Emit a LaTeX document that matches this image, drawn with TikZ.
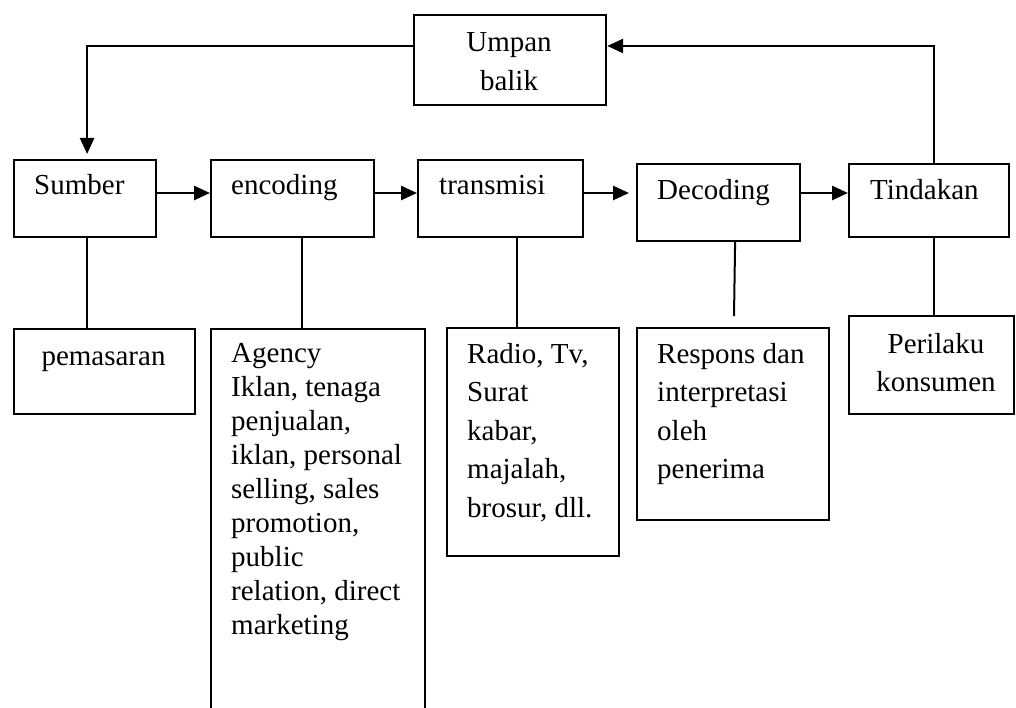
\documentclass[tikz,border=0pt]{standalone}
\usepackage{fontspec}
\setmainfont{Liberation Serif}
\usetikzlibrary{arrows.meta}

\tikzset{
  kotak/.style={draw, line width=2.2pt, rectangle, inner sep=0pt, anchor=north west},
  teks/.style={inner sep=0pt, font=\fontsize{29}{38.5}\selectfont},
  panah/.style={line width=2.6pt, -{Triangle[length=16pt,width=14pt]}},
  garis/.style={line width=2pt}
}

\begin{document}
\begin{tikzpicture}[x=1pt,y=-1pt]
\clip (0,0) rectangle (1016,708);
\node[kotak, minimum width=192pt, minimum height=90pt] (umpan) at (413,14) {};
\node[kotak, minimum width=142pt, minimum height=77pt] (sumber) at (13,159) {};
\node[kotak, minimum width=163pt, minimum height=77pt] (encoding) at (210,159) {};
\node[kotak, minimum width=165pt, minimum height=77pt] (transmisi) at (417,159) {};
\node[kotak, minimum width=163pt, minimum height=77pt] (decoding) at (636,163) {};
\node[kotak, minimum width=160pt, minimum height=73pt] (tindakan) at (848,163) {};
\node[kotak, minimum width=181pt, minimum height=85pt] (pemasaran) at (13,328) {};
\node[kotak, minimum width=214pt, minimum height=400pt] (agency) at (210,328) {};
\node[kotak, minimum width=172pt, minimum height=228pt] (radio) at (446,327) {};
\node[kotak, minimum width=192pt, minimum height=192pt] (respons) at (636,327) {};
\node[kotak, minimum width=165pt, minimum height=98pt] (perilaku) at (848,315) {};

\node[teks, text width=150pt, align=flush center, anchor=base] at (509,52) {Umpan\\balik};
\node[teks, anchor=base west] at (34,195) {Sumber};
\node[teks, anchor=base west] at (231,195) {encoding};
\node[teks, anchor=base west] at (439,195) {transmisi};
\node[teks, anchor=base west] at (657,200) {Decoding};
\node[teks, anchor=base west] at (870,200) {Tindakan};
\node[teks, anchor=base] at (103.5,365) {pemasaran};
\node[teks, font=\fontsize{29}{34}\selectfont, text width=190pt, align=flush left, anchor=base west] at (231,362)
  {Agency\\Iklan, tenaga\\penjualan,\\iklan, personal\\selling, sales\\promotion,\\public\\relation, direct\\marketing};
\node[teks, text width=150pt, align=flush left, anchor=base west] at (467,363) {Radio, Tv,\\Surat\\kabar,\\majalah,\\brosur, dll.};
\node[teks, text width=170pt, align=flush left, anchor=base west] at (657,363) {Respons dan\\interpretasi\\oleh\\penerima};
\node[teks, text width=150pt, align=flush center, anchor=base] at (936,353) {Perilaku\\konsumen};

\coordinate (baris) at (0,193);
\coordinate (atas) at (0,46);
\coordinate (ujung) at (734,316);

\draw[panah] (sumber.east |- baris) -- (encoding.west |- baris);
\draw[panah] (encoding.east |- baris) -- (transmisi.west |- baris);
\draw[panah, shorten >=7pt] (transmisi.east |- baris) -- (decoding.west |- baris);
\draw[panah] (decoding.east |- baris) -- (tindakan.west |- baris);
\draw[panah, shorten >=5pt] (umpan.west |- atas) -| ([xshift=2pt]sumber.north);
\draw[panah] ([xshift=5pt]tindakan.north) |- (umpan.east |- atas);

\draw[garis] ([xshift=2pt]sumber.south) -- ([xshift=2pt]sumber.south |- pemasaran.north);
\draw[garis] ([xshift=9.5pt]encoding.south) -- ([xshift=9.5pt]encoding.south |- agency.north);
\draw[garis] ([xshift=16.5pt]transmisi.south) -- ([xshift=16.5pt]transmisi.south |- radio.north);
\draw[garis] ([xshift=16.5pt]decoding.south) -- (ujung);
\draw[garis] ([xshift=5pt]tindakan.south) -- ([xshift=5pt]tindakan.south |- perilaku.north);
\end{tikzpicture}
\end{document}
